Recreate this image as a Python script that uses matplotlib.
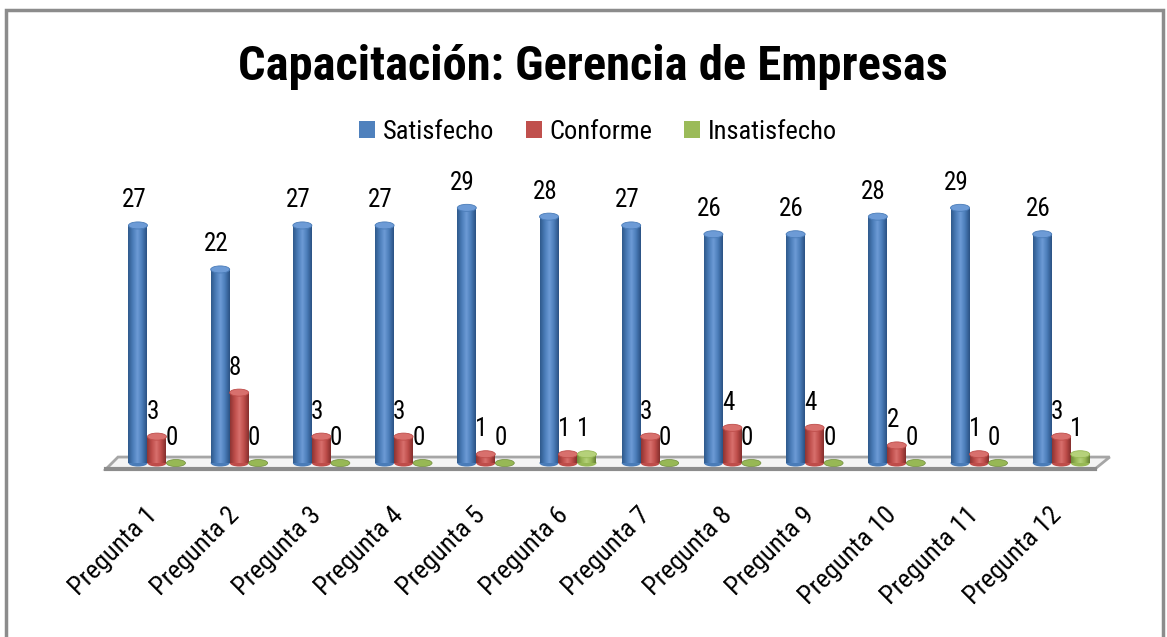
import matplotlib.pyplot as plt
import numpy as np
from matplotlib.patches import Patch, Ellipse, Polygon, Rectangle
from matplotlib.colors import LinearSegmentedColormap

# Datos
preguntas = ['Pregunta %d' % i for i in range(1, 13)]
satisfecho = [27, 22, 27, 27, 29, 28, 27, 26, 26, 28, 29, 26]
conforme = [3, 8, 3, 3, 1, 1, 3, 4, 4, 2, 1, 3]
insatisfecho = [0, 0, 0, 0, 0, 1, 0, 0, 0, 0, 0, 1]

series = [('Satisfecho', satisfecho, '#4F81BD', ['#2F5A8C', '#4A7CB8', '#6D9BD6', '#4A7CB8', '#2B5283']),
          ('Conforme', conforme, '#C0504D', ['#8E3533', '#BE4D4A', '#D8706D', '#BE4D4A', '#852F2D']),
          ('Insatisfecho', insatisfecho, '#9BBB59', ['#6E8B3A', '#97B855', '#B5D17A', '#97B855', '#667F35'])]

fuente = ['Roboto Condensed', 'Liberation Sans Narrow', 'Lato', 'DejaVu Sans']

fig = plt.figure(figsize=(11.67, 6.37), dpi=100)
W, H = 1167, 637

# ejes en pixeles: x de 100 a 1120, y de 170 a 475
ax = fig.add_axes([100 / W, 1 - 475 / H, 1020 / W, 305 / H])
for s in ax.spines.values():
    s.set_visible(False)
ax.set_yticks([])

x = np.arange(len(preguntas))
ancho = 0.231
n = len(preguntas)

# piso
piso = Polygon([[-0.474, 0.68], [n - 1 + 0.59, 0.68], [n - 1 + 0.41, -0.68], [-0.62, -0.68]],
               closed=True, facecolor='#F4F4F4', edgecolor='#A6A6A6', lw=2, zorder=1)
ax.add_patch(piso)
ax.plot([-0.62, n - 1 + 0.41], [-0.68, -0.68], color='#8C8C8C', lw=3, zorder=1.1)

grad = np.linspace(0, 1, 64)[np.newaxis, :]
tapa = 0.8

for k, (nombre, vals, color, tonos) in enumerate(series):
    cm = LinearSegmentedColormap.from_list(nombre, tonos)
    pos = x + (k - 1) * ancho
    barras = ax.bar(pos, vals, ancho, color=color, zorder=3, linewidth=0)
    for b, v in zip(barras, vals):
        x0 = b.get_x()
        xc = x0 + ancho / 2
        if v > 0:
            ax.add_patch(Ellipse((xc, 0), ancho, tapa, facecolor=tonos[1], lw=0, zorder=2.9))
            im = ax.imshow(grad, extent=[x0, x0 + ancho, 0, v], aspect='auto', cmap=cm, zorder=3.1)
            im.set_clip_path(b)
            ax.add_patch(Ellipse((xc, v), ancho, tapa, facecolor=tonos[2], edgecolor=tonos[1],
                                 lw=0.6, zorder=3.2))
        else:
            ax.add_patch(Ellipse((xc, 0), ancho, tapa, facecolor=tonos[1], edgecolor=tonos[0],
                                 lw=0.5, zorder=3.2))
        ax.annotate(str(v), (xc, v), xytext=(-3, 18), textcoords='offset points',
                    ha='center', va='center', fontsize=18, family=fuente, zorder=5)

ax.set_xlim(-0.693, 11.715)
ax.set_ylim(-1.36, 33.3)
ax.set_xticks(x - 0.15, preguntas, rotation=45, ha='right', va='top', rotation_mode='anchor',
              fontsize=19, family=fuente)
ax.tick_params(axis='x', length=0, pad=20)

# titulo y leyenda
fig.text(592.5 / W, 1 - 80 / H, 'Capacitación: Gerencia de Empresas', ha='center', va='baseline',
         fontsize=35, fontweight='bold', family=fuente)
manijas = [Patch(facecolor=c, edgecolor='none') for _, _, c, _ in series]
fig.legend(manijas, [s[0] for s in series], loc='center', bbox_to_anchor=(598 / W, 1 - 132 / H),
           ncol=3, frameon=False, prop={'family': fuente, 'size': 19},
           handlelength=0.6, handleheight=0.6, handletextpad=0.3, columnspacing=1.2)

# marco
fig.patches.append(Rectangle((6 / W, -0.05), 1157 / W, 1.05 - 10 / H, transform=fig.transFigure,
                             fill=False, edgecolor='#8C8C8C', lw=2.5))

plt.savefig('out.png', dpi=100)
